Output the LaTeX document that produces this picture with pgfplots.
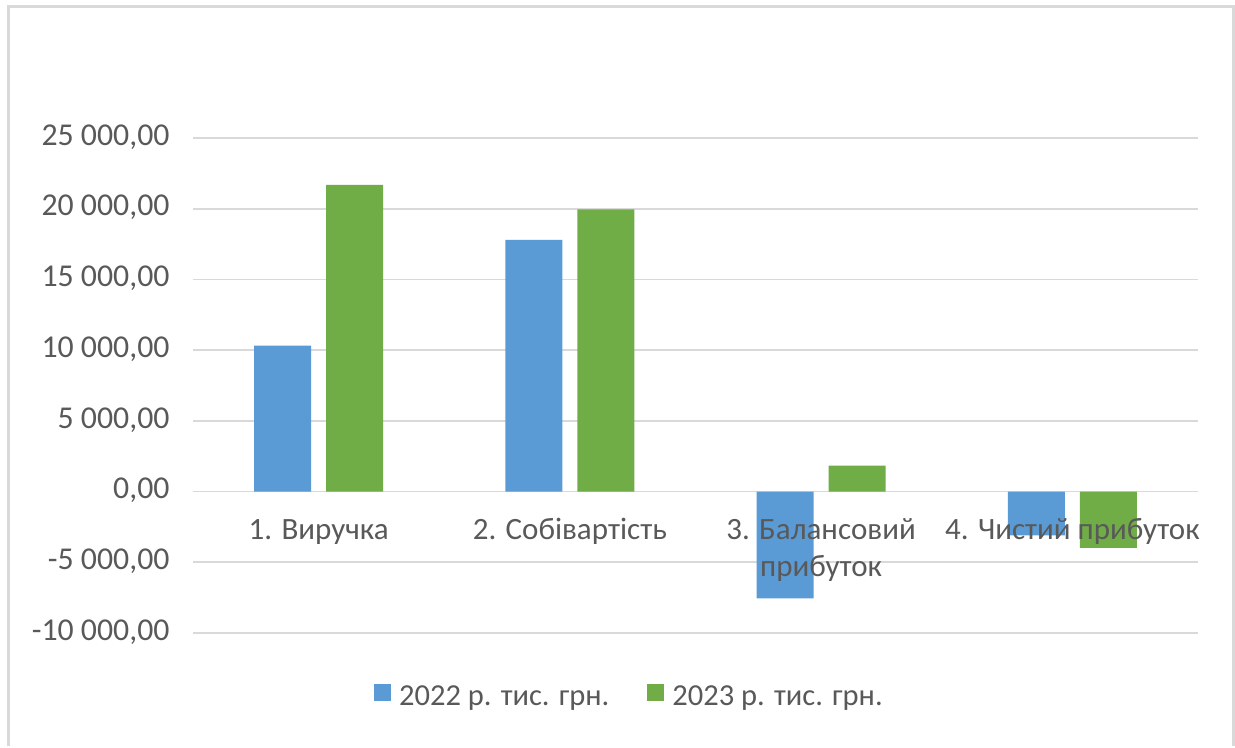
\documentclass[border=0pt]{standalone}
\usepackage{pgfplots}
\pgfplotsset{compat=1.18}
\usepackage{fontspec}
\setmainfont{Carlito}
\definecolor{cblue}{HTML}{5B9BD5}
\definecolor{cgreen}{HTML}{70AD47}
\definecolor{cgrid}{HTML}{D9D9D9}
\definecolor{ctext}{HTML}{595959}
\definecolor{cframe}{HTML}{D9D9D9}
\pgfplotsset{
  geom/.style={
    at={(193bp,111bp)}, anchor=south west,
    scale only axis, width=1005bp, height=495bp,
    xmin=-0.5, xmax=3.5, ymin=-10000, ymax=25000,
    scaled y ticks=false,
    axis line style={draw=none},
    tick style={draw=none},
    xtick={0,1,2,3},
    ytick={-10000,-5000,0,5000,10000,15000,20000,25000},
  }
}
\begin{document}
\begin{tikzpicture}[x=1bp,y=1bp]
\path[fill=white] (0,0) rectangle (1235,744);
\draw[cframe, line width=3bp] (8.5,-2) -- (8.5,737) -- (1233.5,737) -- (1233.5,-2);
% background axis: grid only
\begin{axis}[geom,
  ymajorgrids, major grid style={draw=cgrid, line width=1.6bp},
  xticklabels={}, yticklabels={},
]
\end{axis}
% foreground axis: bars and labels
\begin{axis}[geom,
  axis on top,
  ybar=15bp, bar width=57bp,
  xticklabels={{1. Виручка},{2. Собівартість},{3. Балансовий\\прибуток},{4. Чистий прибуток}},
  typeset ticklabels with strut,
  xticklabel style={align=center, anchor=north, yshift=128bp, font=\fontsize{31bp}{37.5bp}\selectfont, text=ctext},
  yticklabels={{-10 000,00},{-5 000,00},{0,00},{5 000,00},{10 000,00},{15 000,00},{20 000,00},{25 000,00}},
  yticklabel style={font=\fontsize{31.8bp}{36bp}\selectfont, text=ctext, xshift=-20bp},
  legend style={at={(0.4343,-0.1273)}, anchor=center, draw=none, fill=none,
    legend columns=2, font=\fontsize{30.5bp}{36bp}\selectfont, text=ctext,
    /tikz/every even column/.append style={column sep=36bp}},
  legend image code/.code={\fill[#1] (0bp,-5bp) rectangle (17bp,12bp); \path (23bp,0bp);},
]
\addplot[fill=cblue, draw=none] coordinates {(0,10310) (1,17800) (2,-7560) (3,-3100)};
\addplot[fill=cgreen, draw=none] coordinates {(0,21680) (1,19950) (2,1840) (3,-3975)};
\legend{2022 р. тис. грн., 2023 р. тис. грн.}
\end{axis}
\end{tikzpicture}
\end{document}
